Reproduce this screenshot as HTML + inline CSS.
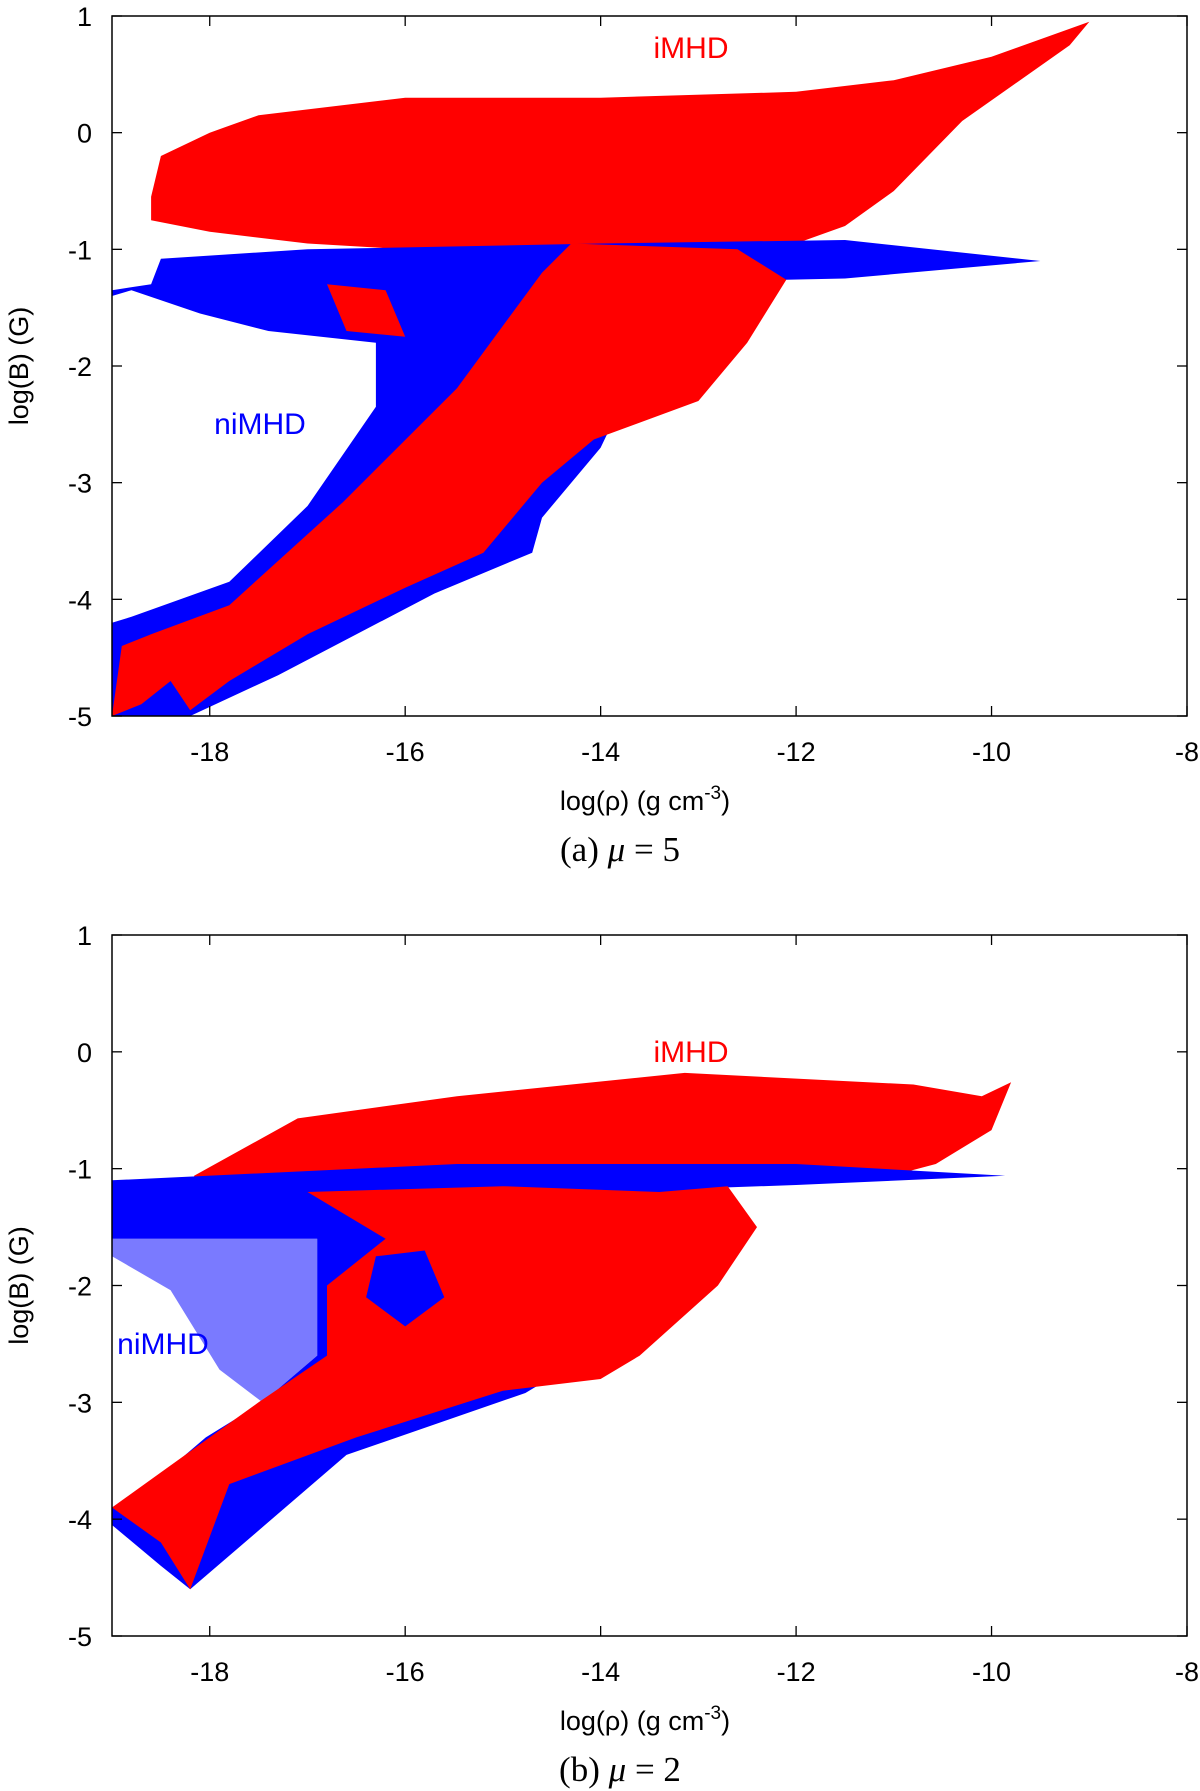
<!DOCTYPE html>
<html><head><meta charset="utf-8">
<style>
html,body{margin:0;padding:0;background:#fff;}
svg{display:block;font-family:"Liberation Sans",sans-serif;}
</style></head>
<body>
<svg id="fig" width="1200" height="1791" viewBox="0 0 1200 1791" xmlns="http://www.w3.org/2000/svg"></svg>
<script>
// ---- data (log rho, log B) region outlines ----
const xTicks = [-18,-16,-14,-12,-10,-8];
const yTicks = [1,0,-1,-2,-3,-4,-5];
const xTickLabels = ["-18","-16","-14","-12","-10","-8"];
const yTickLabels = ["1","0","-1","-2","-3","-4","-5"];

const aRedUpperX = [-18.6,-18.5,-18.0,-17.5,-16,-14,-12,-11,-10,-9,-9.2,-10.3,-11.0,-11.5,-12,-14,-16,-17,-18,-18.6];
const aRedUpperY = [-0.55,-0.2,0.0,0.15,0.3,0.3,0.35,0.45,0.65,0.95,0.75,0.1,-0.5,-0.8,-0.95,-1.0,-1.0,-0.95,-0.85,-0.75];
const aBlueX = [-19,-18.6,-18.5,-17,-14,-11.5,-9.5,-11.5,-12.6,-13.0,-13.6,-14.0,-14.6,-14.7,-15.7,-17.3,-18.2,-19,-19,-18.8,-17.8,-17.0,-16.3,-16.3,-17.4,-18.1,-18.8,-19];
const aBlueY = [-1.35,-1.3,-1.08,-1.0,-0.95,-0.92,-1.1,-1.25,-1.27,-1.6,-2.0,-2.7,-3.3,-3.6,-3.95,-4.65,-5.0,-5,-4.2,-4.15,-3.85,-3.2,-2.35,-1.8,-1.7,-1.55,-1.35,-1.4];
const aRedDiagX = [-19,-18.9,-18.6,-17.8,-16.64,-15.47,-14.6,-14.3,-12.6,-12.1,-12.5,-13.0,-14.07,-14.6,-15.2,-16.0,-17.0,-17.8,-18.2,-18.4,-18.7];
const aRedDiagY = [-5,-4.4,-4.3,-4.05,-3.17,-2.19,-1.2,-0.95,-1.0,-1.26,-1.8,-2.3,-2.63,-3.0,-3.6,-3.9,-4.3,-4.7,-4.95,-4.7,-4.9];
const aRedBlobX = [-16.8,-16.2,-16.0,-16.6];
const aRedBlobY = [-1.3,-1.35,-1.75,-1.7];

const bRedUpperX = [-18.16,-17.1,-15.47,-13.14,-10.8,-10.1,-9.8,-10.0,-10.57,-11.2,-12.67,-15,-17,-18.16];
const bRedUpperY = [-1.06,-0.57,-0.38,-0.18,-0.28,-0.38,-0.26,-0.67,-0.96,-1.1,-1.06,-1.0,-1.05,-1.1];
const bBlueSparseX = [-19,-16.9,-16.9,-17.46,-17.9,-18.4,-19];
const bBlueSparseY = [-1.6,-1.6,-2.6,-3.0,-2.72,-2.04,-1.75];
const bBlueX = [-19,-15.47,-12,-9.86,-12,-12.7,-12.9,-13.6,-14.77,-16.6,-18.2,-18.5,-19,-19,-18.6,-18.04,-17.46,-16.9,-16.9,-19];
const bBlueY = [-1.1,-0.96,-0.96,-1.06,-1.14,-1.16,-1.55,-2.33,-2.92,-3.45,-4.6,-4.4,-4.05,-3.9,-3.7,-3.3,-3.0,-2.6,-1.6,-1.6];
const bRedMidX = [-17,-15,-13.4,-12.7,-12.4,-12.8,-13.6,-14,-15,-16.5,-17.8,-18.2,-18.5,-19,-18.5,-17.5,-16.8,-16.8,-16.2];
const bRedMidY = [-1.2,-1.15,-1.2,-1.15,-1.5,-2.0,-2.6,-2.8,-2.9,-3.3,-3.7,-4.6,-4.2,-3.9,-3.6,-3.0,-2.6,-2.0,-1.6];
const bBlueHoleX = [-16.3,-15.8,-15.6,-16.0,-16.4];
const bBlueHoleY = [-1.75,-1.7,-2.1,-2.35,-2.1];

const NS = "http://www.w3.org/2000/svg";
const svg = document.getElementById("fig");
function el(tag, attrs, parent){ const e=document.createElementNS(NS,tag); for(const k in attrs) e.setAttribute(k,attrs[k]); (parent||svg).appendChild(e); return e; }

const L=112, R=1187;
function xs(v){ return L + (v+19)*(R-L)/11; }

function panel(top,bottom,key,polys,iLab,niLab,caption){
  const g = el("g",{});
  
  
  const ys = v => top + (1-v)*(bottom-top)/6;
  polys.forEach(p=>{
    const pts = p.x.map((xv,i)=>xs(xv).toFixed(1)+","+ys(p.y[i]).toFixed(1)).join(" ");
    const poly = el("polygon",{points:pts,fill:p.c},g);
    
    
  });
  const frame = el("rect",{x:L,y:top,width:R-L,height:bottom-top,fill:"none",stroke:"#000","stroke-width":1.5},g);
  
  
  xTicks.forEach((t,i)=>{
    const x=xs(t);
    el("line",{x1:x,y1:bottom,x2:x,y2:bottom-10,stroke:"#000","stroke-width":1.3},g);
    el("line",{x1:x,y1:top,x2:x,y2:top+10,stroke:"#000","stroke-width":1.3},g);
    const tx = el("text",{x:x,y:bottom+45,"font-size":27,"text-anchor":"middle"},g);
    tx.textContent = xTickLabels[i];
    
    
  });
  yTicks.forEach((t,i)=>{
    const y=ys(t);
    el("line",{x1:L,y1:y,x2:L+10,y2:y,stroke:"#000","stroke-width":1.3},g);
    el("line",{x1:R,y1:y,x2:R-10,y2:y,stroke:"#000","stroke-width":1.3},g);
    const tx = el("text",{x:92,y:y+10,"font-size":27,"text-anchor":"end"},g);
    tx.textContent = yTickLabels[i];
    
    
  });
  const yt = el("text",{x:0,y:0,"font-size":27,"text-anchor":"middle",transform:`translate(28,${(top+bottom)/2}) rotate(-90)`},g);
  yt.textContent = "log(B) (G)";
  
  
  const xt = el("text",{x:645,y:bottom+94,"font-size":27,"text-anchor":"middle"},g);
  xt.innerHTML = 'log(ρ) (g cm<tspan dy="-11" font-size="19">-3</tspan><tspan dy="11">)</tspan>';
  
  
  const cp = el("text",{x:620,y:bottom+145,"font-size":35,"text-anchor":"middle","font-family":"Liberation Serif, serif"},g);
  cp.innerHTML = caption;
  
  
  const il = el("text",{x:iLab[0],y:iLab[1],"font-size":30,fill:"#f00","text-anchor":"middle"},g);
  il.textContent = "iMHD";
  
  
  const nl = el("text",{x:niLab[0],y:niLab[1],"font-size":30,fill:"#00f","text-anchor":"middle"},g);
  nl.textContent = "niMHD";
  
  
}

panel(16,716,"a",[
  {x:aRedUpperX,y:aRedUpperY,c:"#f00",n:"imhd-upper-region"},
  {x:aBlueX,y:aBlueY,c:"#00f",n:"nimhd-region"},
  {x:aRedDiagX,y:aRedDiagY,c:"#f00",n:"imhd-diagonal-region"},
  {x:aRedBlobX,y:aRedBlobY,c:"#f00",n:"imhd-small-blob"}
],[691,58],[260,434],'(a) <tspan font-style="italic">μ</tspan> = 5');

panel(935,1636,"b",[
  {x:bRedUpperX,y:bRedUpperY,c:"#f00",n:"imhd-upper-region"},
  {x:bBlueSparseX,y:bBlueSparseY,c:"#7a7aff",n:"nimhd-sparse-region"},
  {x:bBlueX,y:bBlueY,c:"#00f",n:"nimhd-region"},
  {x:bRedMidX,y:bRedMidY,c:"#f00",n:"imhd-mid-region"},
  {x:bBlueHoleX,y:bBlueHoleY,c:"#00f",n:"nimhd-pocket"}
],[691,1062],[163,1354],'(b) <tspan font-style="italic">μ</tspan> = 2');
</script>
</body></html>
